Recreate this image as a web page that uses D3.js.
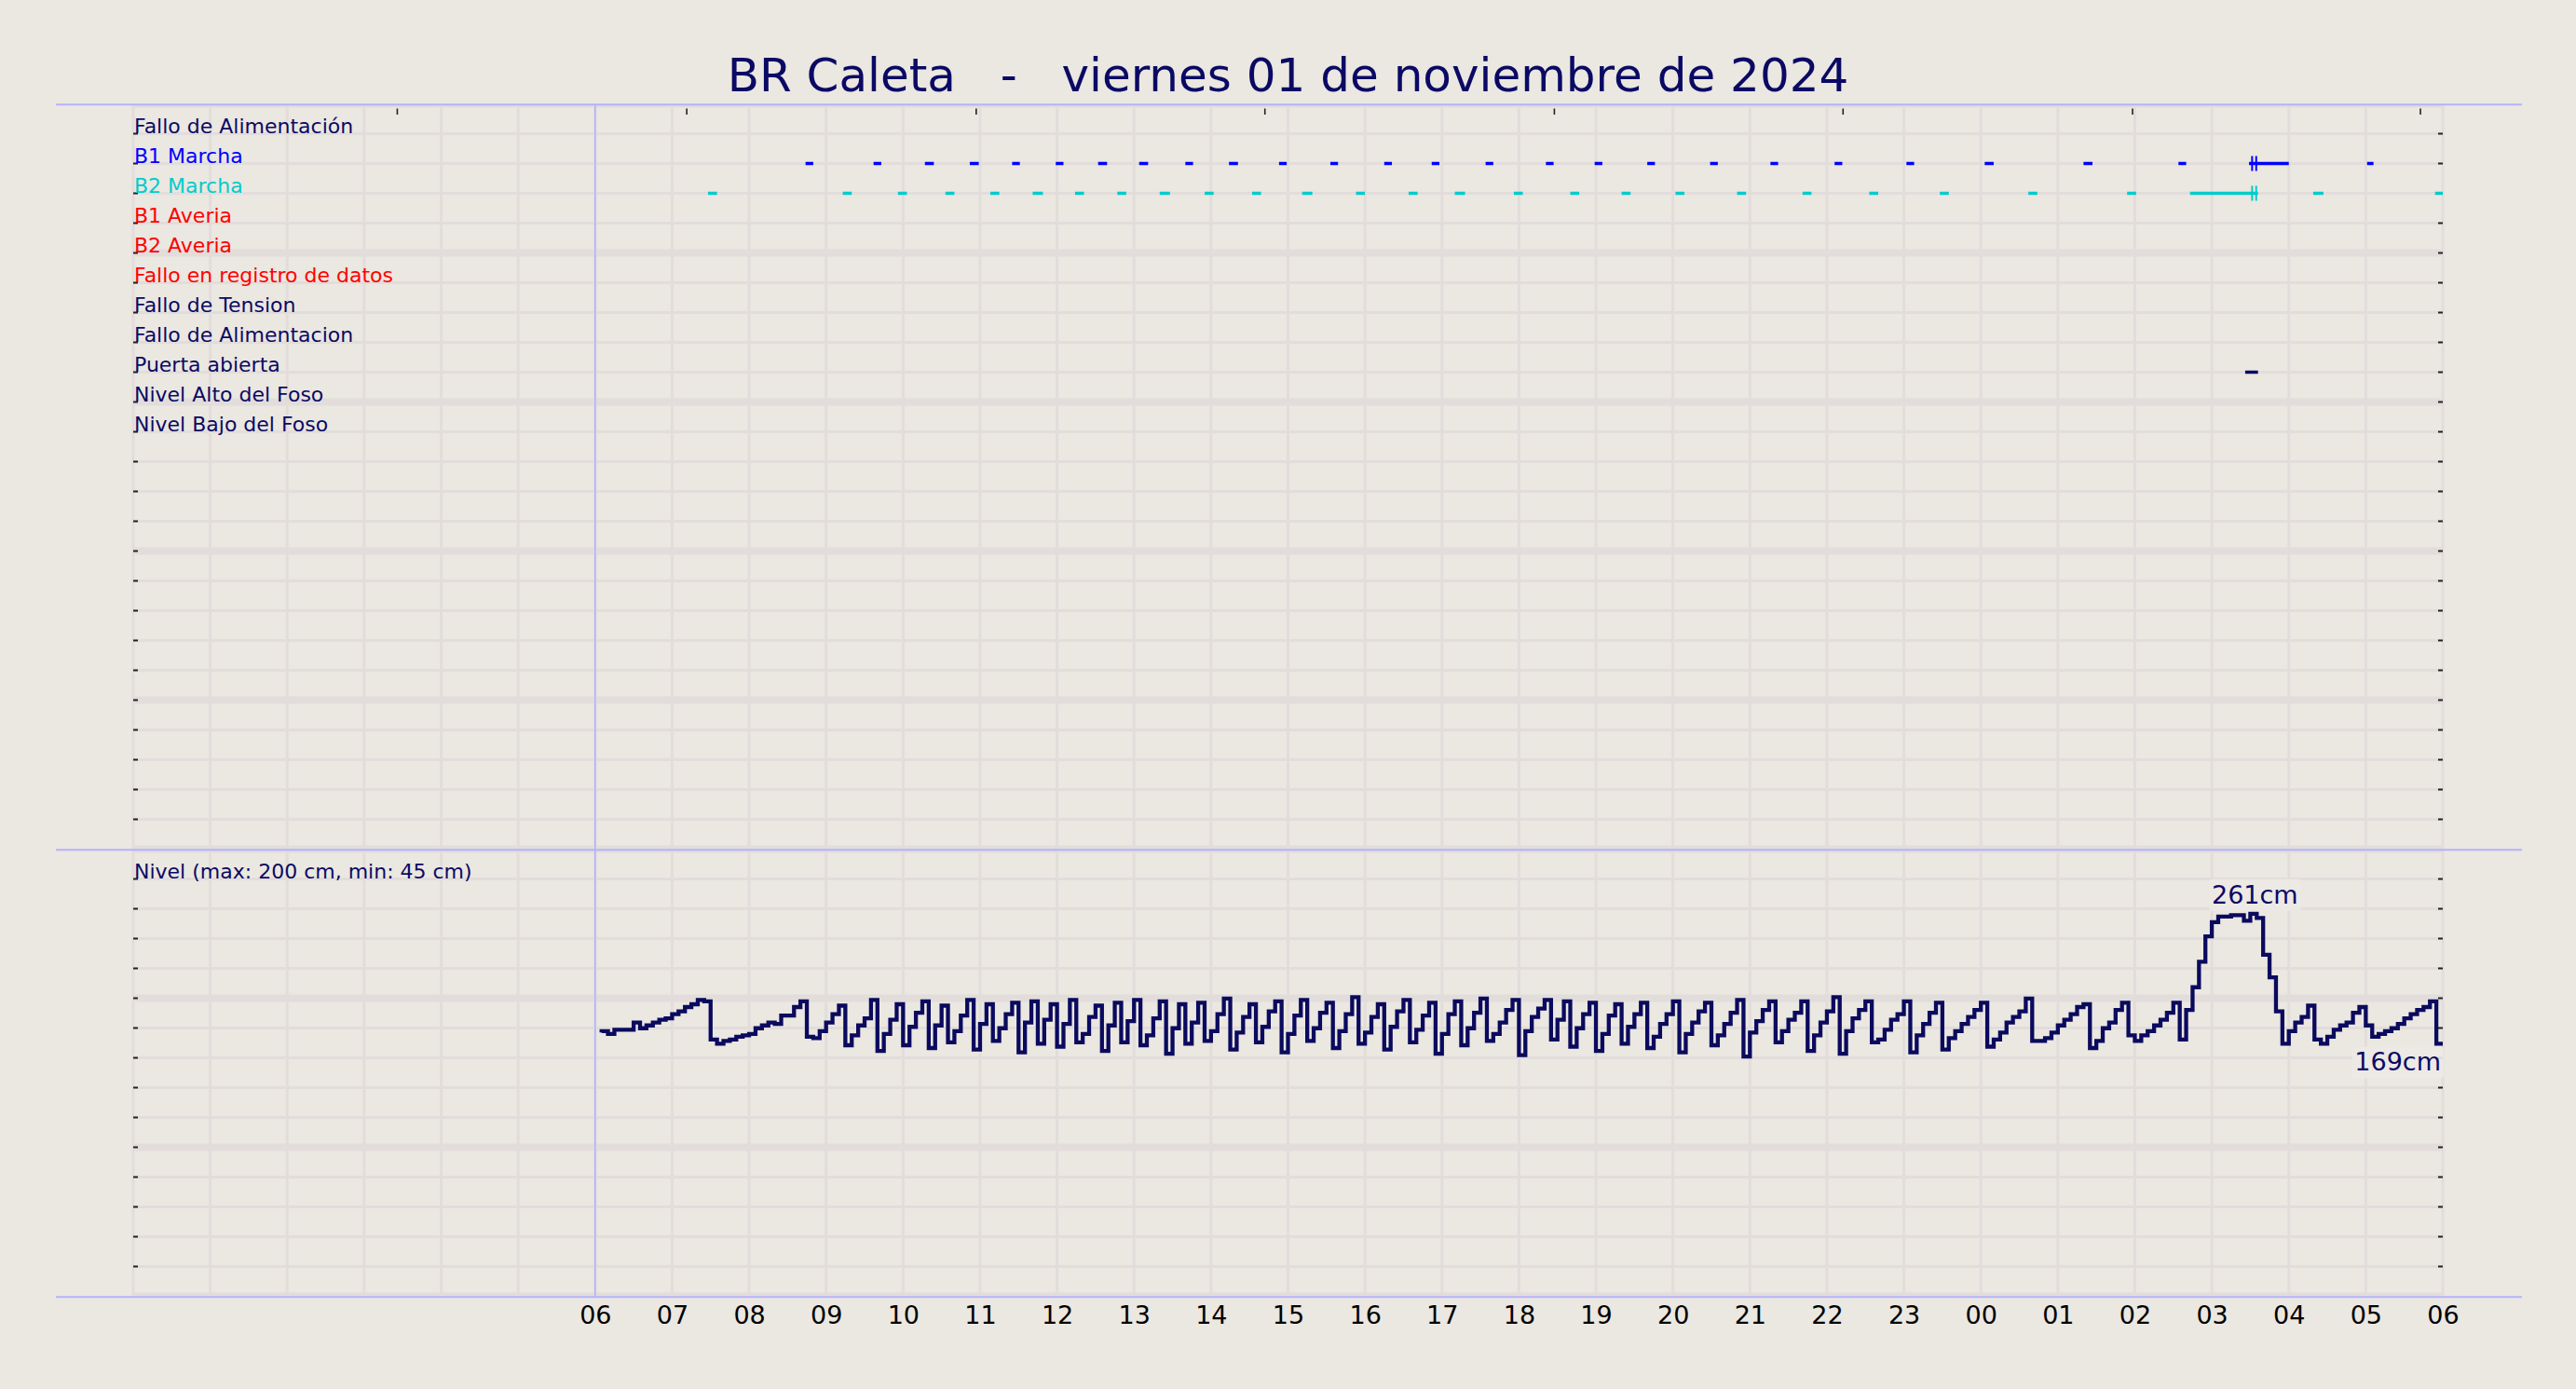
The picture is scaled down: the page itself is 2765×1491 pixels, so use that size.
<!DOCTYPE html>
<html><head><meta charset="utf-8">
<script src="https://cdn.jsdelivr.net/npm/d3@7"></script>
<style>
body{margin:0;background:#ebe7e1;}
svg{display:block}
text{font-family:"DejaVu Sans",sans-serif}
</style></head>
<body><svg id="c" width="2765" height="1491"></svg>
<script>
// ---------------- data ----------------
const titleText = "BR Caleta   -   viernes 01 de noviembre de 2024";
const rowLabels = ["Fallo de Alimentación","B1 Marcha","B2 Marcha","B1 Averia","B2 Averia",
  "Fallo en registro de datos","Fallo de Tension","Fallo de Alimentacion","Puerta abierta",
  "Nivel Alto del Foso","Nivel Bajo del Foso"];
const rowColors = ["#0a0a64","#0000ff","#00cccc","#ff0000","#ff0000","#ff0000",
  "#0a0a64","#0a0a64","#0a0a64","#0a0a64","#0a0a64"];
const xTickLabels = ["06","07","08","09","10","11","12","13","14","15","16","17","18",
  "19","20","21","22","23","00","01","02","03","04","05","06"];
// secondary top ticks, hours since 00:00 of 01/11
const topTickHours = [3.43, 7.19, 10.95, 14.70, 18.46, 22.21, 25.97, 29.71];
const b1Events = [["08:44","08:50"],["09:37","09:43"],["10:17","10:24"],["10:52","10:59"],
  ["11:25","11:31"],["11:59","12:05"],["12:32","12:39"],["13:04","13:11"],["13:40","13:46"],
  ["14:14","14:21"],["14:53","14:59"],["15:33","15:39"],["16:15","16:21"],["16:52","16:58"],
  ["17:34","17:40"],["18:21","18:27"],["18:59","19:05"],["19:40","19:46"],["20:29","20:35"],
  ["21:16","21:22"],["22:06","22:12"],["23:02","23:08"],["00:03","00:10"],["01:20","01:27"],
  ["02:34","02:40"],["03:29","04:00"],["05:01","05:06"]];
const b2Events = [["07:28","07:35"],["09:13","09:20"],["09:56","10:03"],["10:33","10:40"],
  ["11:08","11:15"],["11:41","11:49"],["12:14","12:21"],["12:47","12:54"],["13:20","13:28"],
  ["13:55","14:02"],["14:32","14:39"],["15:11","15:19"],["15:53","16:00"],["16:34","16:41"],
  ["17:10","17:18"],["17:56","18:03"],["18:40","18:47"],["19:20","19:27"],["20:02","20:09"],
  ["20:50","20:57"],["21:41","21:48"],["22:33","22:40"],["23:28","23:35"],["00:37","00:44"],
  ["01:54","02:01"],["02:43","03:36"],["04:19","04:27"],["05:54","06:00"]];
const doorEvents = [["03:26","03:36"]];
const markTimes = ["03:33"];
const levelStart = "06:05";
const levelStepMinutes = 5;
const levelValues = [
 177,178,176,179,179,179,184,180,182,184,186,187,190,192,195,197,200,199,
 172,169,171,172,174,175,176,180,182,184,183,189,189,195,199,
 174,173,178,184,190,196,
 168,175,182,187,200,
 164,176,186,197,
 168,181,191,199,
 166,182,196,
 170,178,189,200,
 165,183,197,
 171,180,190,198,
 163,184,199,
 169,186,197,
 167,183,200,
 170,176,188,196,
 164,182,198,
 170,185,200,
 168,175,187,199,
 162,180,197,
 169,184,198,
 171,178,190,201,
 165,177,188,197,
 170,181,192,199,
 163,176,189,200,
 171,180,191,198,
 166,178,190,202,
 169,177,188,197,
 165,181,192,200,
 170,179,189,198,
 162,176,190,199,
 168,180,191,201,
 171,176,184,193,200,
 161,178,188,194,200,
 172,186,199,
 167,180,190,198,
 164,176,189,197,
 169,181,190,198,
 166,174,183,190,199,
 163,176,184,192,198,
 168,175,183,191,200,
 160,177,185,193,199,
 170,178,186,191,199,
 164,175,184,192,202,
 162,178,187,193,199,
 170,172,179,186,190,199,
 163,175,183,191,198,
 165,173,178,183,188,193,198,
 167,172,177,184,188,192,201,
 171,171,173,177,182,186,190,195,197,
 166,171,180,184,193,198,
 175,171,175,178,182,186,191,198,
 172,193,209,227,245,255,259,259,260,260,256,261,258,232,216,192,
 169,178,184,188,196,
 172,169,174,179,182,184,191,195,
 182,174,176,178,180,183,187,190,193,195,199,
 169];
const levelLabel = "Nivel (max: 200 cm, min: 45 cm)";

// ---------------- setup ----------------
const W = 2765, H = 1491;
const C = {bg:"#ebe7e1", grid:"#e2dddb", navy:"#0a0a64", line:"#0a0a5e", blue:"#b3b3fb",
  b1:"#0000ff", b2:"#00cccc", tick:"#222222"};
const svg = d3.select("#c");
svg.append("rect").attr("width",W).attr("height",H).attr("fill",C.bg);

const day0 = new Date(2024,10,1,0,0);
const chartStart = new Date(2024,10,1,6,0);
const chartEnd = new Date(2024,10,2,6,0);
function parseT(s){
  const [h,m] = s.split(":").map(Number);
  let d = new Date(2024,10,1,h,m);
  if (d < chartStart) d = new Date(2024,10,2,h,m);
  return d;
}
function parseSpan(a){
  const s = parseT(a[0]); let e = parseT(a[1]);
  if (e <= s) e = new Date(e.getTime() + 86400000);
  return [s,e];
}

const x = d3.scaleTime().domain([day0, chartEnd]).range([143, 2622]);
const X0 = x.range()[0], X1 = x.range()[1];
const yTop = d3.scaleLinear().domain([0,25]).range([111.5, 911.5]);
const yBot = d3.scaleLinear().domain([0,15]).range([911.5, 1391.5]);
const yLevel = d3.scaleLinear().domain([-9.6, 306.7]).range([1391.5, 911.5]);

// ---------------- panels (grid + ticks) ----------------
function panel(yRow, n, id){
  const [ya, yb] = yRow.range();
  svg.append("clipPath").attr("id",id).append("rect")
    .attr("x",X0-2).attr("y",ya).attr("width",X1-X0+4).attr("height",yb-ya);
  const g = svg.append("g").attr("clip-path",`url(#${id})`);
  const hours = d3.timeHour.range(day0, new Date(chartEnd.getTime()+1));
  g.selectAll("line.v").data(hours).join("line")
    .attr("x1",d=>x(d)).attr("x2",d=>x(d)).attr("y1",ya).attr("y2",yb)
    .attr("stroke",C.grid).attr("stroke-width",3);
  g.selectAll("line.h").data(d3.range(0,n+1)).join("line")
    .attr("x1",X0).attr("x2",X1).attr("y1",d=>yRow(d)).attr("y2",d=>yRow(d))
    .attr("stroke",C.grid).attr("stroke-width",d=>d%5===0?8:3);
  const tk = d3.range(1,n);
  svg.append("g").selectAll("line").data(tk).join("line")
    .attr("x1",X0).attr("x2",X0+5).attr("y1",d=>yRow(d)).attr("y2",d=>yRow(d))
    .attr("stroke",C.tick).attr("stroke-width",2);
  svg.append("g").selectAll("line").data(tk).join("line")
    .attr("x1",X1-5).attr("x2",X1).attr("y1",d=>yRow(d)).attr("y2",d=>yRow(d))
    .attr("stroke",C.tick).attr("stroke-width",2);
}
panel(yTop, 25, "clipTop");
panel(yBot, 15, "clipBot");

// top secondary ticks
svg.append("g").selectAll("line")
  .data(topTickHours.map(h=>new Date(day0.getTime()+h*3600000))).join("line")
  .attr("x1",d=>x(d)).attr("x2",d=>x(d)).attr("y1",116.5).attr("y2",123)
  .attr("stroke",C.tick).attr("stroke-width",1.6);

// blue frame lines
[112.3, 912.3, 1392.3].forEach(yy=>{
  svg.append("line").attr("x1",60).attr("x2",2707).attr("y1",yy).attr("y2",yy)
    .attr("stroke",C.blue).attr("stroke-width",2);
});
svg.append("line").attr("x1",x(chartStart)).attr("x2",x(chartStart))
  .attr("y1",112.3).attr("y2",1392.3).attr("stroke",C.blue).attr("stroke-width",1.6);

// ---------------- title ----------------
svg.append("text").attr("x",W/2).attr("y",98).attr("text-anchor","middle")
  .attr("font-size",50).attr("fill",C.navy).style("white-space","pre")
  .text(titleText);

// ---------------- row labels ----------------
svg.append("g").selectAll("text").data(rowLabels).join("text")
  .attr("x",144).attr("y",(d,i)=>yTop(i+1)-0.5)
  .attr("font-size",22).attr("fill",(d,i)=>rowColors[i]).text(d=>d);

// ---------------- events ----------------
function drawEvents(list, row, color){
  svg.append("g").selectAll("line").data(list.map(parseSpan)).join("line")
    .attr("x1",d=>x(d[0])).attr("x2",d=>x(d[1]))
    .attr("y1",yTop(row)).attr("y2",yTop(row))
    .attr("stroke",color).attr("stroke-width",3.5);
}
drawEvents(b1Events, rowLabels.indexOf("B1 Marcha")+1, C.b1);
drawEvents(b2Events, rowLabels.indexOf("B2 Marcha")+1, C.b2);
drawEvents(doorEvents, rowLabels.indexOf("Puerta abierta")+1, C.navy);
[[rowLabels.indexOf("B1 Marcha")+1, C.b1],[rowLabels.indexOf("B2 Marcha")+1, C.b2]].forEach(([row,col])=>{
  markTimes.map(parseT).forEach(t=>{
    [-2.2, 2.2].forEach(off=>{
      svg.append("line").attr("x1",x(t)+off).attr("x2",x(t)+off)
        .attr("y1",yTop(row)-8).attr("y2",yTop(row)+8)
        .attr("stroke",col).attr("stroke-width",2);
    });
  });
});

// ---------------- level panel ----------------
svg.append("text").attr("x",144).attr("y",yBot(1)-0.5).attr("font-size",22)
  .attr("fill",C.navy).text(levelLabel);

const t0 = parseT(levelStart).getTime();
const level = levelValues.map((v,i)=>({t:new Date(t0 + i*levelStepMinutes*60000), v}));
const lineGen = d3.line().x(d=>x(d.t)).y(d=>yLevel(d.v)).curve(d3.curveStepBefore);
svg.append("path").datum(level).attr("d",lineGen).attr("fill","none")
  .attr("stroke",C.line).attr("stroke-width",4.3).attr("stroke-linejoin","miter");

// annotations
const maxV = d3.max(level, d=>d.v);
const maxD = level.filter(d=>d.v===maxV).slice(-1)[0];
const lastD = level[level.length-1];
function label(txt, px, py, anchor){
  const g = svg.append("g");
  const t = g.append("text").attr("x",px).attr("y",py).attr("text-anchor",anchor)
    .attr("font-size",27).attr("fill",C.navy).text(txt);
  const b = t.node().getBBox();
  g.insert("rect","text").attr("x",b.x-3).attr("y",b.y-1).attr("width",b.width+6)
    .attr("height",b.height+3).attr("rx",4).attr("fill","#ede9e5").attr("opacity",0.92);
}
label(maxV+"cm", x(maxD.t)-2, yLevel(maxD.v)-11, "middle");
label(lastD.v+"cm", x(lastD.t)-2, yLevel(lastD.v)+29, "end");

// ---------------- x axis ----------------
const tickDates = xTickLabels.map((_,i)=>new Date(chartStart.getTime()+i*3600000));
const ax = svg.append("g").attr("transform","translate(0,1392)")
  .call(d3.axisBottom(x).tickValues(tickDates).tickFormat((d,i)=>xTickLabels[i]).tickSize(0).tickPadding(10));
ax.select(".domain").remove();
ax.selectAll("text").attr("font-size",27).attr("fill","#000").attr("font-family","DejaVu Sans");
</script></body></html>
